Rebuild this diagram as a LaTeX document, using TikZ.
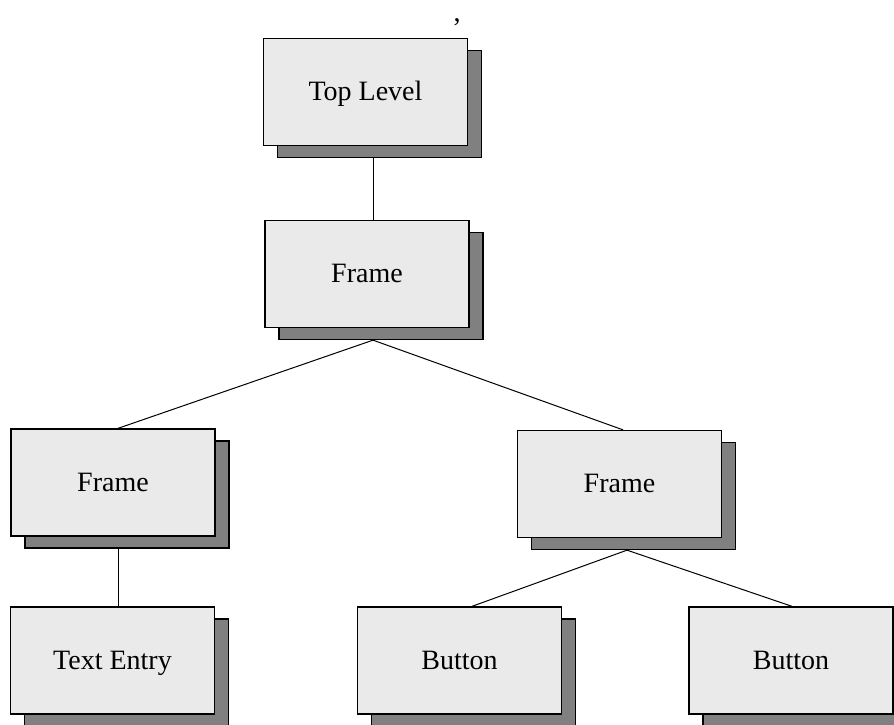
\documentclass[tikz,border=0pt]{standalone}
\usepackage{fontspec}
\setmainfont{Liberation Serif}
\usetikzlibrary{shadows,calc}
\definecolor{boxfill}{HTML}{EAEAEA}
\definecolor{shadowgray}{HTML}{808080}
\tikzset{
  treebox/.style={draw=black, line width=1.3pt, fill=boxfill,
    minimum width=204pt, minimum height=107pt, inner sep=0pt,
    text height=17pt, text depth=0pt,
    font=\fontsize{28}{34}\selectfont,
    copy shadow={shadow xshift=14pt, shadow yshift=-12pt, fill=shadowgray, draw=black, line width=1.3pt}},
  link/.style={draw=black, line width=1pt}
}
\begin{document}
\begin{tikzpicture}[x=1pt,y=-1pt]
\useasboundingbox (0,0) rectangle (894,725);
\node[anchor=base, inner sep=0pt, font=\fontsize{28}{34}\selectfont] (comma) at (457,21.5) {,};
\node[treebox] (top) at (365.5,92) {Top Level};
\node[treebox] (f1) at (367,274) {Frame};
\node[treebox] (fl) at (113,482.5) {Frame};
\node[treebox] (fr) at (619.5,484) {Frame};
\node[treebox] (te) at (112.5,660.5) {Text Entry};
\node[treebox] (b1) at (459.5,660.5) {Button};
\node[treebox] (b2) at (791,660.5) {Button};
\draw[link] ($(top.south)+(7.5,12)$) -- ($(f1.north)+(6,0)$);
\draw[link] ($(f1.south)+(6,12)$) -- ($(fl.north)+(5,0)$);
\draw[link] ($(f1.south)+(6,12)$) -- ($(fr.north)+(3.5,0)$);
\draw[link] ($(fl.south)+(5,12)$) -- ($(te.north)+(5.5,0)$);
\draw[link] ($(fr.south)+(7.5,12)$) -- ($(b1.north)+(12.5,0)$);
\draw[link] ($(fr.south)+(7.5,12)$) -- ($(b2.north)+(1,0)$);
\end{tikzpicture}
\end{document}
